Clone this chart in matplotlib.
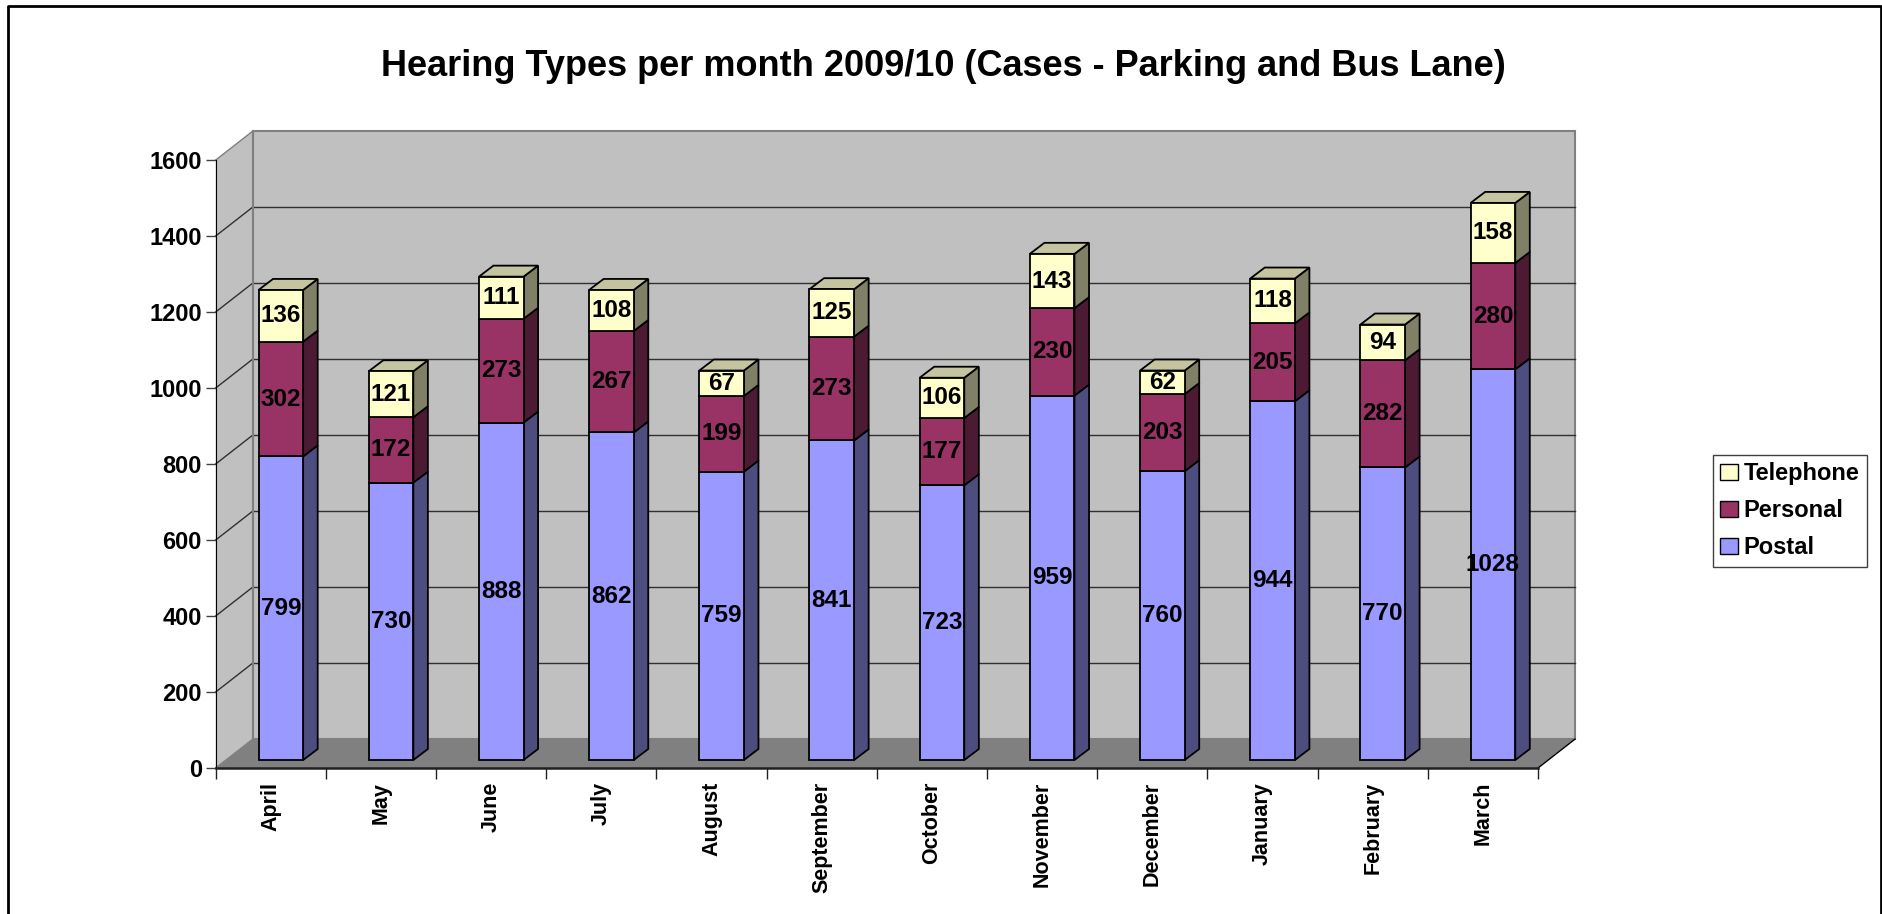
import numpy as np
import matplotlib.pyplot as plt
from matplotlib.patches import Polygon, Patch
from matplotlib.lines import Line2D

plt.rcParams['font.family'] = ['Liberation Sans', 'DejaVu Sans']
plt.rcParams['font.weight'] = 'bold'

months = ['April', 'May', 'June', 'July', 'August', 'September',
          'October', 'November', 'December', 'January', 'February', 'March']
postal = [799, 730, 888, 862, 759, 841, 723, 959, 760, 944, 770, 1028]
personal = [302, 172, 273, 267, 199, 273, 177, 230, 203, 205, 282, 280]
telephone = [136, 121, 111, 108, 67, 125, 106, 143, 62, 118, 94, 158]

series = [('Postal', postal, '#9999ff', '#4d4d80'),
          ('Personal', personal, '#993366', '#4d1a33'),
          ('Telephone', telephone, '#ffffcc', '#808066')]

ymax = 1600
# oblique depth of the floor / walls (x in categories, y in data units)
ddx, ddy = 0.336, 76
# bar front plane and bar depth
fx, fy = 0.091, 21
bdx, bdy = 0.132, 29
bw = 0.405

fig = plt.figure(figsize=(18.83, 9.14), dpi=100)
ax = fig.add_axes([215.7 / 1883, 146 / 914, 1322.3 / 1883, 608 / 914])
ax.set_xlim(0, 12)
ax.set_ylim(0, ymax)
ax.patch.set_visible(False)
for s in ['top', 'right']:
    ax.spines[s].set_visible(False)
ax.spines['left'].set_color('black')
ax.spines['bottom'].set_color('#202020')
ax.spines['bottom'].set_linewidth(1.8)

n = len(months)
# walls and floor
ax.add_patch(Polygon([(0, 0), (ddx, ddy), (ddx, ymax + ddy), (0, ymax)],
                     closed=True, fc='#c0c0c0', ec='none', zorder=0, clip_on=False))
ax.add_patch(Polygon([(ddx, ddy), (n + ddx, ddy), (n + ddx, ymax + ddy), (ddx, ymax + ddy)],
                     closed=True, fc='#c0c0c0', ec='#808080', lw=1.5, zorder=0, clip_on=False))
ax.add_patch(Polygon([(0, 0), (n, 0), (n + ddx, ddy), (ddx, ddy)],
                     closed=True, fc='#808080', ec='none', zorder=0.5, clip_on=False))
ax.add_line(Line2D([n, n + ddx], [0, ddy], color='black', lw=1, zorder=0.6, clip_on=False))
ax.add_line(Line2D([ddx, ddx], [ddy, ymax + ddy], color='#808080', lw=1.5, zorder=0.4, clip_on=False))

yt = np.arange(0, ymax + 1, 200)
for v in yt[1:]:
    c = '#808080' if v == ymax else '#303030'
    ax.add_line(Line2D([0, ddx], [v, v + ddy], color=c, lw=1, zorder=0.3, clip_on=False))
    if v < ymax:
        ax.add_line(Line2D([ddx, n + ddx], [v + ddy, v + ddy], color=c, lw=1, zorder=0.3, clip_on=False))
ax.add_line(Line2D([0, ddx], [0, ddy], color='#808080', lw=1, zorder=0.6, clip_on=False))

x = np.arange(n) + 0.5 + fx
bottom = np.zeros(n)
for name, vals, front, side in series:
    vals = np.array(vals, dtype=float)
    ax.bar(x, vals, width=bw, bottom=bottom + fy, color=front, edgecolor='black',
           linewidth=1.3, zorder=2, clip_on=False)
    for i in range(n):
        xr = x[i] + bw / 2
        y0 = bottom[i] + fy
        y1 = y0 + vals[i]
        ax.add_patch(Polygon([(xr, y0), (xr + bdx, y0 + bdy), (xr + bdx, y1 + bdy), (xr, y1)],
                             closed=True, fc=side, ec='black', lw=1.3, zorder=1.9, clip_on=False))
        ax.text(x[i], (y0 + y1) / 2, str(int(vals[i])), ha='center', va='center',
                fontsize=17.5, fontweight='bold', zorder=5)
    bottom = bottom + vals

# top faces of the stacks
for i in range(n):
    xl = x[i] - bw / 2
    xr = x[i] + bw / 2
    ytop = bottom[i] + fy
    ax.add_patch(Polygon([(xl, ytop), (xl + bdx, ytop + bdy), (xr + bdx, ytop + bdy), (xr, ytop)],
                         closed=True, fc='#c4c4a0', ec='black', lw=1.3, zorder=1.9, clip_on=False))

ax.set_yticks(yt)
ax.set_yticklabels([str(v) for v in yt], fontsize=17, fontweight='bold')
ax.tick_params(axis='y', direction='out', length=7, width=1, pad=3, color='#404040')
ax.set_xticks(np.arange(n + 1))
ax.set_xticklabels([])
ax.tick_params(axis='x', which='major', direction='out', length=8, width=1, color='#202020')
ax.set_xticks(np.arange(n) + 0.5, minor=True)
ax.set_xticklabels(months, minor=True, rotation=90, fontsize=15.5, fontweight='bold', va='top')
ax.tick_params(axis='x', which='minor', length=0, pad=10)

fig.text((384 + 1502) / 2 / 1883, 1 - 66 / 914,
         'Hearing Types per month 2009/10 (Cases - Parking and Bus Lane)',
         ha='center', va='center', fontsize=26, fontweight='bold')

handles = [Patch(fc=s[2], ec='black', lw=1) for s in series[::-1]]
labels = [s[0] for s in series[::-1]]
fig.legend(handles, labels, loc='upper left', bbox_to_anchor=(1713 / 1883, 1 - 455 / 914),
           frameon=True, fancybox=False, edgecolor='#404040', framealpha=1,
           prop={'size': 17, 'weight': 'bold'}, handlelength=0.75, handleheight=0.7,
           handletextpad=0.25, labelspacing=0.6, borderpad=0.3, borderaxespad=0)

# outer chart border (left, top, right)
fig.add_artist(Line2D([8 / 1883, 8 / 1883, 1881 / 1883, 1881 / 1883],
                      [0, 1 - 6 / 914, 1 - 6 / 914, 0], transform=fig.transFigure,
                      color='black', lw=2))

fig.savefig('out.png', dpi=100)
